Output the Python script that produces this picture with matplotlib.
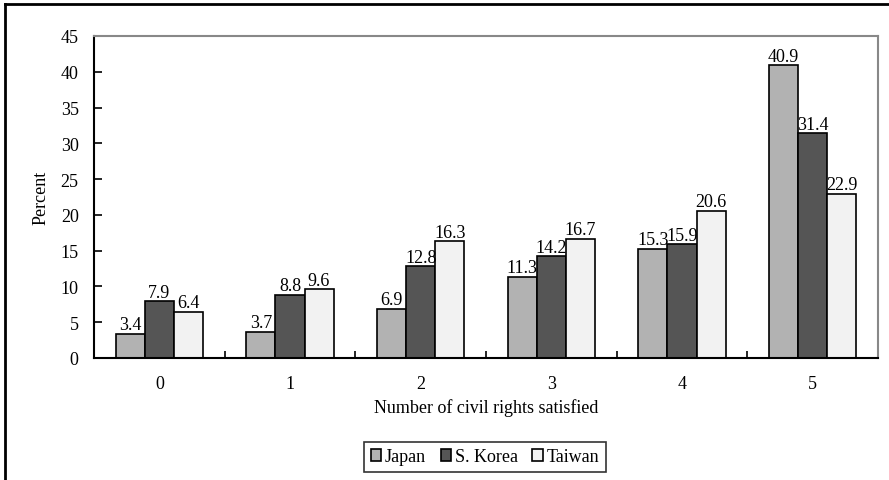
import matplotlib.pyplot as plt
import numpy as np
from matplotlib.lines import Line2D

plt.rcParams['font.family'] = ['Liberation Serif', 'DejaVu Serif']

categories = ['0', '1', '2', '3', '4', '5']
japan = [3.4, 3.7, 6.9, 11.3, 15.3, 40.9]
korea = [7.9, 8.8, 12.8, 14.2, 15.9, 31.4]
taiwan = [6.4, 9.6, 16.3, 16.7, 20.6, 22.9]
series_names = ['Japan', 'S. Korea', 'Taiwan']
colors = ['#b2b2b2', '#555555', '#f2f2f2']

fs = 13

fig = plt.figure(figsize=(8.89, 4.81), dpi=100)
ax = fig.add_axes([94 / 889, 1 - 359 / 481, 784 / 889, 322 / 481])

x = np.arange(len(categories))
w = 0.222
for i, (vals, name, c) in enumerate(zip([japan, korea, taiwan], series_names, colors)):
    pos = x + (i - 1) * w
    ax.bar(pos, vals, width=w, color=c, edgecolor='black', linewidth=1.2, label=name)
    for xp, v in zip(pos, vals):
        ax.text(xp, v + 0.1, f'{v:.1f}', ha='center', va='bottom', fontsize=fs)

ax.set_xlim(-0.5, len(categories) - 0.5)
ax.set_ylim(0, 45)
ax.set_yticks(np.arange(0, 46, 5))
ax.set_xticks(x)
ax.set_xticklabels(categories)
ax.set_xticks(np.arange(0.5, len(categories) - 0.5, 1), minor=True)
ax.tick_params(axis='x', which='major', length=0, pad=12, labelsize=fs)
ax.tick_params(axis='x', which='minor', direction='in', length=5, width=1.2)
ax.tick_params(axis='y', direction='in', length=6, width=1.2, pad=11, labelsize=fs)

for s in ['left', 'bottom']:
    ax.spines[s].set_linewidth(1.5)
    ax.spines[s].set_color('black')
for s in ['top', 'right']:
    ax.spines[s].set_linewidth(1.5)
    ax.spines[s].set_color('#888888')

ax.set_xlabel('Number of civil rights satisfied', fontsize=fs, labelpad=5)
ax.set_ylabel('Percent', fontsize=fs, labelpad=8)

leg = fig.legend(loc='center', bbox_to_anchor=(485 / 889, 1 - 458 / 481), ncol=3,
                 frameon=True, fancybox=False, edgecolor='black', fontsize=fs,
                 handlelength=0.6, handleheight=0.6, handletextpad=0.2,
                 columnspacing=0.8, borderpad=0.35)
leg.get_frame().set_linewidth(1.2)

# outer border along left and top edges
fig.add_artist(Line2D([5 / 889, 5 / 889], [0, 1 - 5 / 481], color='black', lw=2, transform=fig.transFigure))
fig.add_artist(Line2D([5 / 889, 1], [1 - 5 / 481, 1 - 5 / 481], color='black', lw=2, transform=fig.transFigure))

fig.savefig('out.png', dpi=100)
